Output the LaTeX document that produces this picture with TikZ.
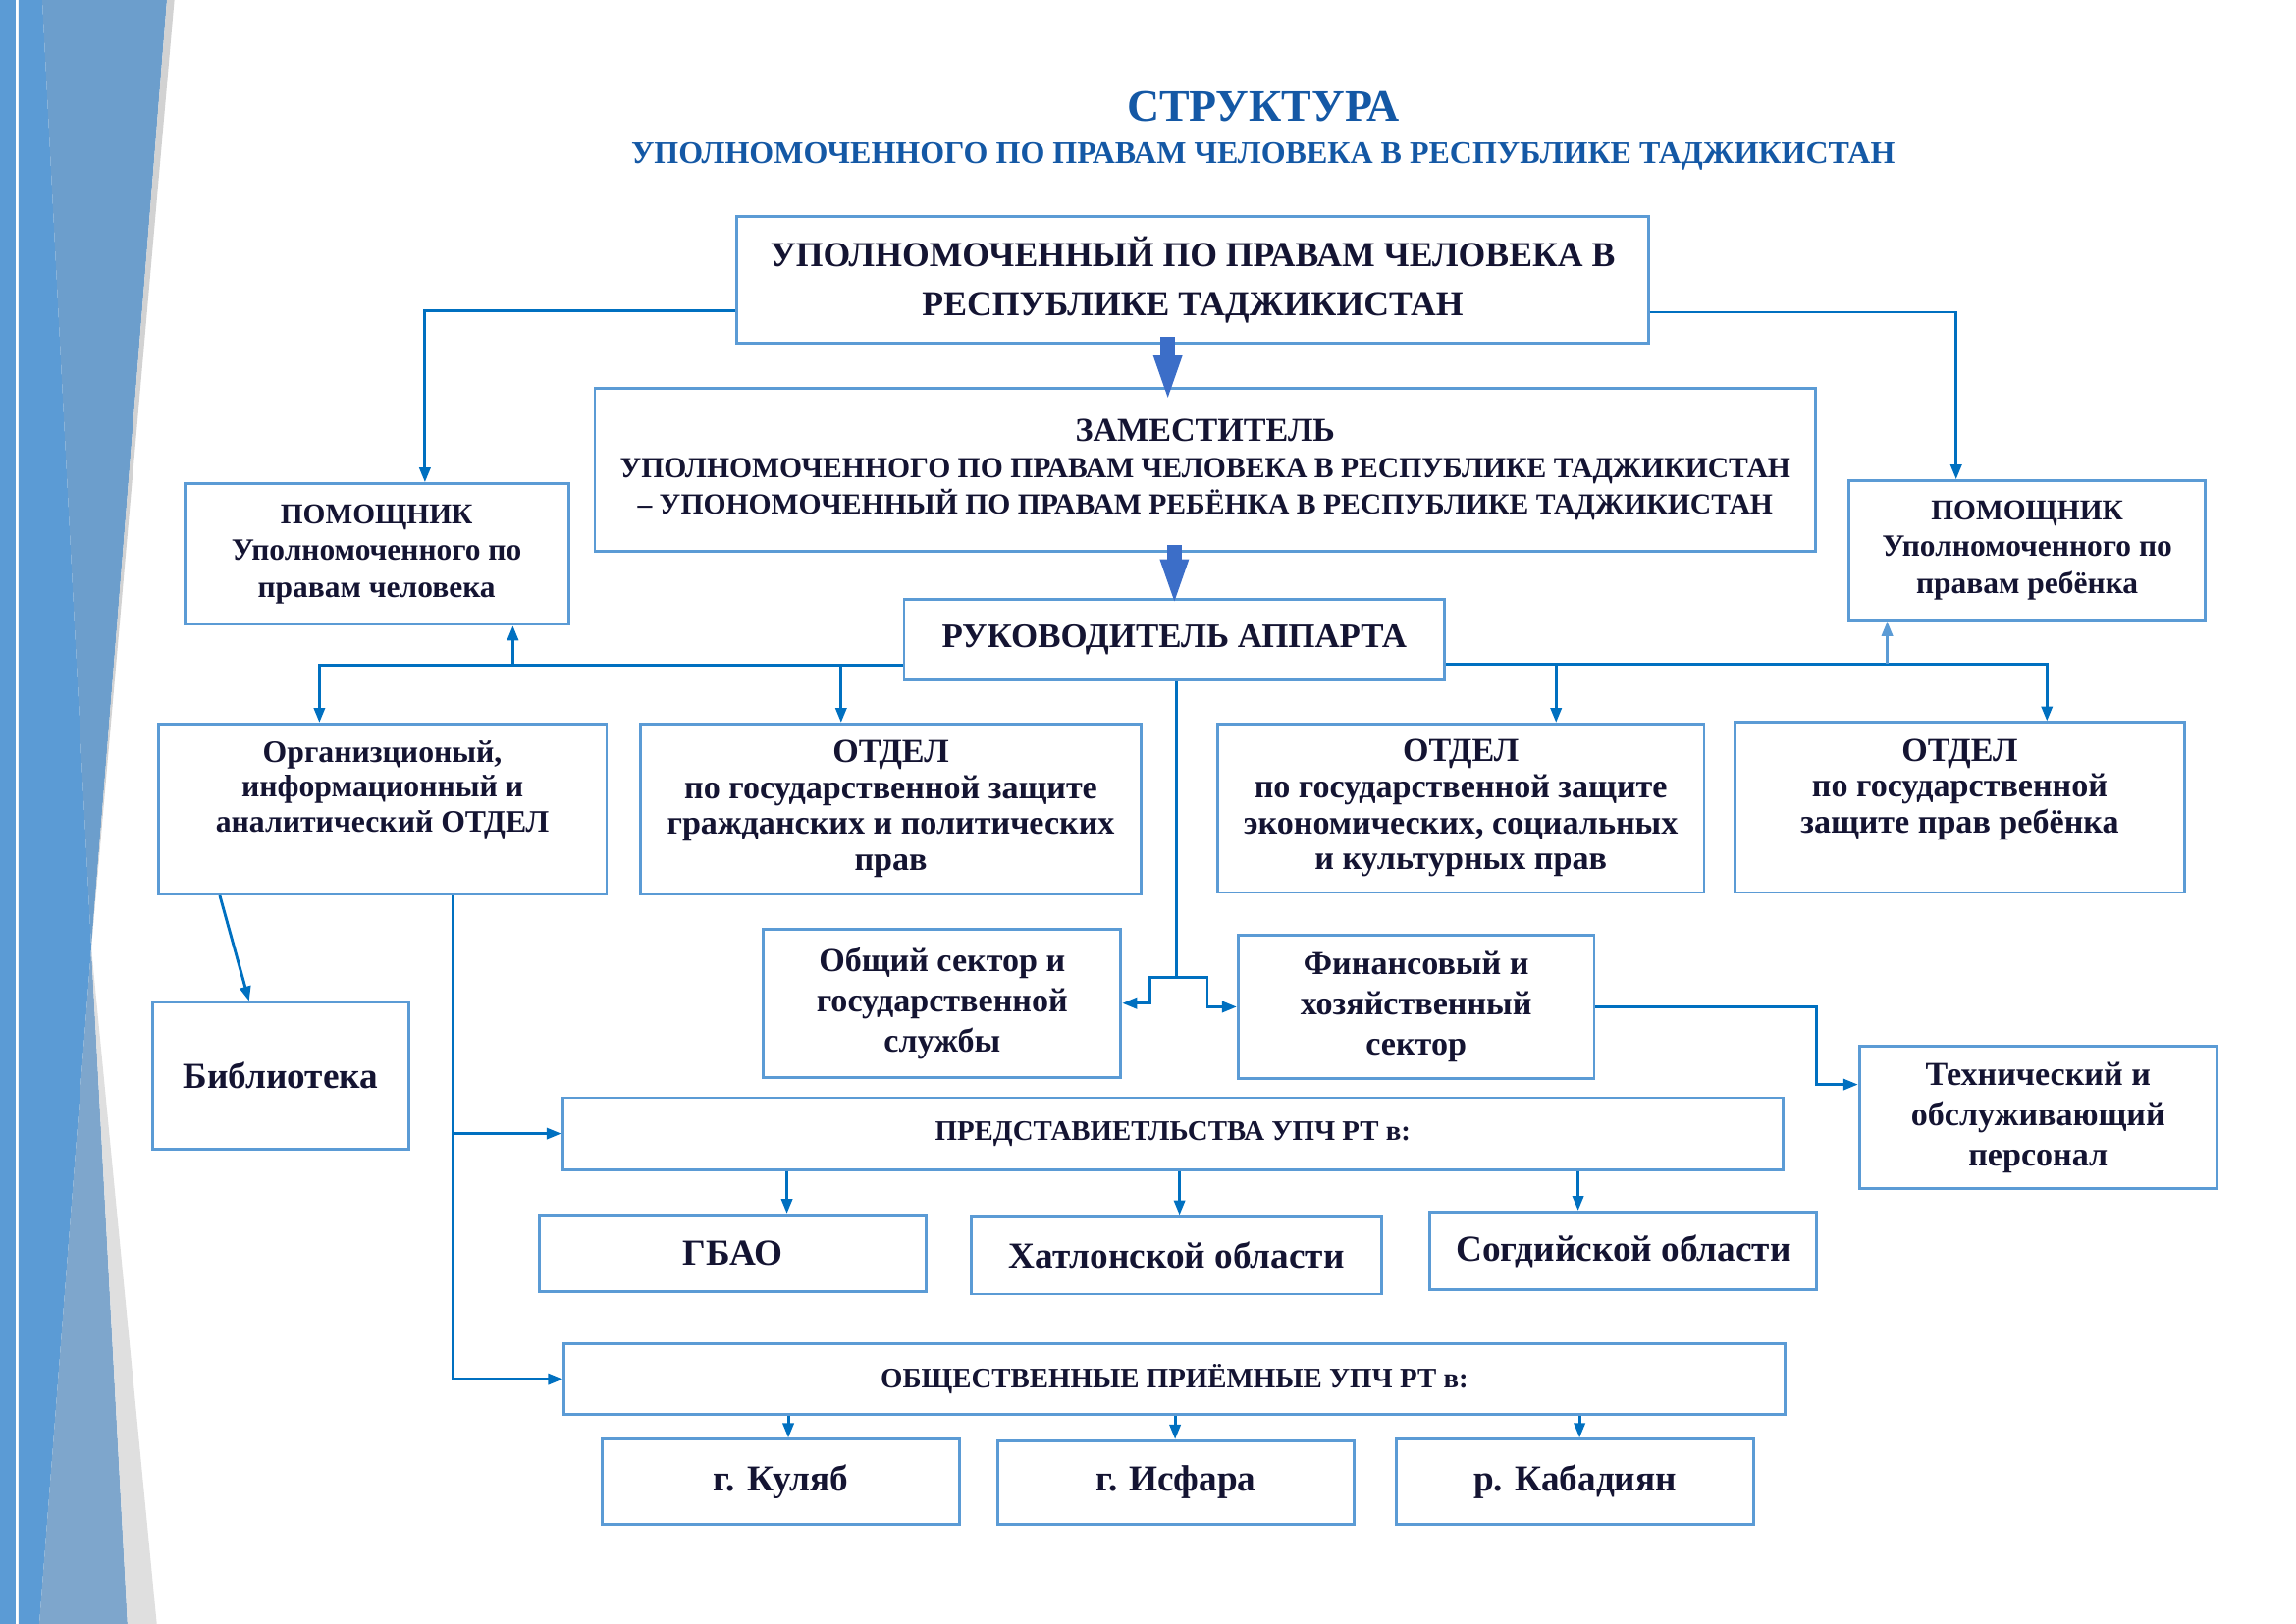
\documentclass[tikz,border=0pt]{standalone}
\usepackage{fontspec}
\setmainfont{Liberation Serif}
\usepackage{tikz}
\usetikzlibrary{arrows.meta}
\definecolor{boxblue}{RGB}{91,155,213}
\definecolor{lineblue}{RGB}{0,112,192}
\definecolor{navy}{RGB}{20,20,50}
\definecolor{titleblue}{RGB}{20,88,165}
\definecolor{arrowblue}{RGB}{60,110,200}
\definecolor{steelblue}{RGB}{108,158,204}
\definecolor{paleblue}{RGB}{126,166,204}
\tikzstyle{box}=[draw=boxblue, line width=1.1pt, fill=white, align=center, text=navy, inner sep=2pt, font=\bfseries\fontsize{13}{14}\selectfont]
\tikzstyle{loose}=[font=\bfseries\fontsize{13}{15.6}\selectfont]
\tikzstyle{pomtext}=[font=\bfseries\fontsize{12}{14.3}\selectfont]
\tikzstyle{bigtext}=[font=\bfseries\fontsize{14.2}{16}\selectfont]
\tikzstyle{smalltext}=[font=\bfseries\fontsize{11}{12}\selectfont]
\tikzstyle{title}=[text=titleblue, font=\bfseries\fontsize{17.5}{20}\selectfont]
\tikzstyle{subtitle}=[text=titleblue, font=\bfseries\fontsize{12.2}{15}\selectfont]
\tikzstyle{link}=[draw=lineblue, line width=1.1pt]
\tikzstyle{arrow}=[link, -{Triangle[length=2mm, width=1.5mm]}]
\tikzstyle{bigarrow}=[draw=arrowblue, line width=2mm, shorten <=-1mm, shorten >=-1.2mm, -{Triangle[length=6.5mm, width=3.4mm]}]
\tikzset{wh/.style 2 args={minimum width=#1*0.2mm, minimum height=#2*0.2mm}}

\begin{document}
\begin{tikzpicture}[x=0.2mm, y=-0.2mm]
	\useasboundingbox (0,0) rectangle (1567,1108);
	% left band
	\fill[boxblue] (0,0) rectangle (10.7,1108);
	\fill[boxblue] (12.7,0) -- (28.8,0) -- (62.3,646.5) -- (26.8,1108) -- (12.7,1108) -- cycle;
	\fill[steelblue] (28.8,0) -- (113.9,0) -- (62.3,646.5) -- cycle;
	\fill[paleblue] (62.3,646.5) -- (26.8,1108) -- (87,1108) -- cycle;
	\fill[gray!35] (113.9,0) -- (119,0) -- (62.3,646.5) -- cycle;
	\fill[gray!25] (62.3,646.5) -- (87,1108) -- (107,1108) -- cycle;

	% title
	\node[title] (ttl) at (862,73) {СТРУКТУРА};
	\node[subtitle] (sub) at (862,107) {УПОЛНОМОЧЕННОГО ПО ПРАВАМ ЧЕЛОВЕКА В РЕСПУБЛИКЕ ТАДЖИКИСТАН};

	% top levels
	\node[box, wh={622}{86}, font=\bfseries\fontsize{13.6}{19.3}\selectfont] (boss) at (814,191) {УПОЛНОМОЧЕННЫЙ ПО ПРАВАМ ЧЕЛОВЕКА В\\ РЕСПУБЛИКЕ ТАДЖИКИСТАН};
	\node[box, wh={833}{111}, font=\bfseries\fontsize{11.3}{14.2}\selectfont] (zam) at (822.5,320.5) {{\fontsize{13}{14}\selectfont ЗАМЕСТИТЕЛЬ}\\ УПОЛНОМОЧЕННОГО ПО ПРАВАМ ЧЕЛОВЕКА В РЕСПУБЛИКЕ ТАДЖИКИСТАН\\ – УПОНОМОЧЕННЫЙ ПО ПРАВАМ РЕБЁНКА В РЕСПУБЛИКЕ ТАДЖИКИСТАН};
	\node[box, wh={262}{96}, pomtext] (pomL) at (257,378) {{\fontsize{11.2}{14}\selectfont ПОМОЩНИК}\\ Уполномоченного по\\ правам человека};
	\node[box, wh={243}{95}, pomtext] (pomR) at (1383.5,375.5) {{\fontsize{11.2}{14}\selectfont ПОМОЩНИК}\\ Уполномоченного по\\ правам ребёнка};
	\node[box, wh={369}{55}, font=\bfseries\fontsize{13.3}{15}\selectfont] (ruk) at (801.5,436.5) {РУКОВОДИТЕЛЬ АППАРТА};

	% departments
	\node[box, wh={306}{116}, label={[align=center, text=navy, font=\bfseries\fontsize{12.1}{13.4}\selectfont, anchor=north, yshift=-1.3mm]north:Организционый,\\ информационный и\\ аналитический ОТДЕЛ}] (org) at (261,552) {};
	\node[box, wh={342}{116}] (civil) at (608,552) {ОТДЕЛ\\ по государственной защите\\ гражданских и политических\\ прав};
	\node[box, wh={332}{115}] (econ) at (997,551.5) {ОТДЕЛ\\ по государственной защите\\ экономических, социальных\\ и культурных прав};
	\node[box, wh={307}{116}, label={[align=center, text=navy, font=\bfseries\fontsize{13}{14}\selectfont, anchor=north, yshift=-1.2mm]north:ОТДЕЛ\\ по государственной\\ защите прав ребёнка}] (child) at (1337.5,551) {};

	% sectors
	\node[box, wh={244}{101}, loose] (gen) at (643,684.5) {Общий сектор и\\ государственной\\ службы};
	\node[box, wh={243}{98}, loose] (fin) at (966.5,687) {Финансовый и\\ хозяйственный\\ сектор};
	\node[box, wh={244}{97}, loose] (tech) at (1391,762.5) {Технический и\\ обслуживающий\\ персонал};
	\node[box, wh={175}{100}, bigtext] (lib) at (191.5,734) {Библиотека};

	% offices
	\node[box, wh={833}{49}, smalltext] (pred) at (800.5,773.5) {ПРЕДСТАВИЕТЛЬСТВА УПЧ РТ в:};
	\node[box, wh={264}{52}, bigtext] (gbao) at (500,855) {ГБАО};
	\node[box, wh={280}{53}, bigtext] (hat) at (803,856.5) {Хатлонской области};
	\node[box, wh={264}{53}, bigtext] (sog) at (1108,853.5) {Согдийской области};
	\node[box, wh={833}{48}, smalltext] (obsh) at (801.5,941) {ОБЩЕСТВЕННЫЕ ПРИЁМНЫЕ УПЧ РТ в:};
	\node[box, wh={244}{58}, bigtext] (kul) at (533,1011) {г. Куляб};
	\node[box, wh={243}{57}, bigtext] (isf) at (802.5,1011.5) {г. Исфара};
	\node[box, wh={244}{58}, bigtext] (kab) at (1075,1011) {р. Кабадиян};

	% connectors
	\draw[arrow] (boss.west |- 0,212) -| (290,0 |- pomL.north);
	\draw[arrow] (boss.east |- 0,213) -| (1335,0 |- pomR.north);
	\draw[bigarrow, shorten >=-2.2mm] (797,0 |- boss.south) -- (797,0 |- zam.north);
	\draw[bigarrow] (zam.south -| ruk.north) -- (ruk.north);

	\coordinate (busL) at (ruk.west |- 0,454);
	\coordinate (busR) at (ruk.east |- 0,453);
	\draw[arrow] (busL) -| (218,0 |- org.north);
	\draw[arrow] (574,0 |- busL) -- (574,0 |- civil.north);
	\draw[arrow] (350,0 |- busL) -- (350,0 |- pomL.south);
	\draw[arrow] (busR) -| (1397,0 |- child.north);
	\draw[arrow] (1062,0 |- busR) -- (1062,0 |- econ.north);
	\draw[arrow, draw=boxblue] (1288,0 |- busR) -- (1288,0 |- pomR.south);

	\coordinate (split) at (803,667);
	\draw[link] (ruk.south -| split) -- (split);
	\draw[arrow] (split) -- ++(-18,0) |- (gen.east);
	\draw[arrow] (split) -- ++(21,0) |- (fin.west);
	\draw[arrow] (fin.east) -| (1240,740) -- (tech.west |- 0,740);

	\draw[arrow] (150,0 |- org.south) -- (170,0 |- lib.north);
	\draw[arrow] (309,0 |- org.south) |- (obsh.west);
	\draw[arrow] (309,0 |- pred.west) -- (pred.west);
	\foreach \x/\t in {537/gbao, 805/hat, 1077/sog}
		\draw[arrow] (\x,0 |- pred.south) -- (\x,0 |- \t.north);
	\foreach \x/\t in {538/kul, 802/isf, 1078/kab}
		\draw[arrow] (\x,0 |- obsh.south) -- (\x,0 |- \t.north);
\end{tikzpicture}
\end{document}
